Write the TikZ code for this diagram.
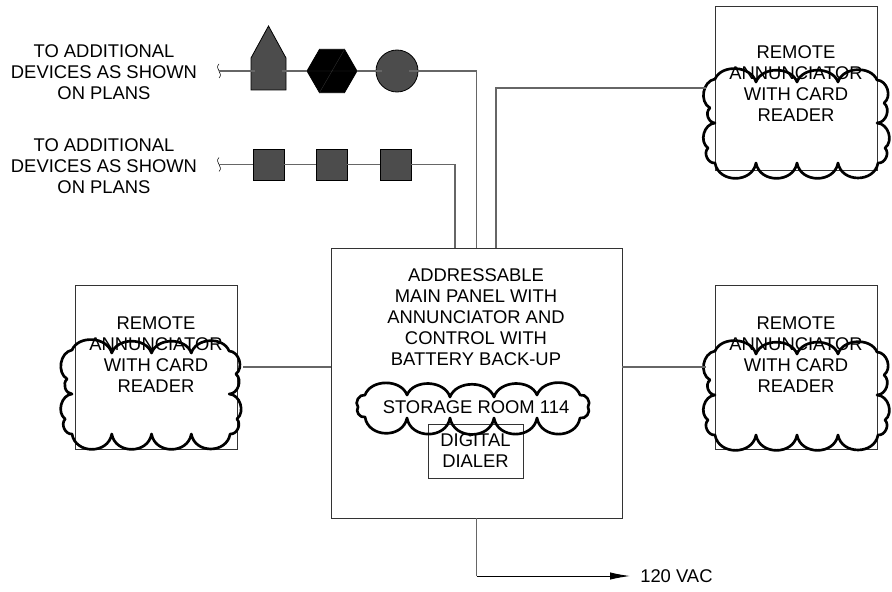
\documentclass[tikz,border=0pt]{standalone}
\usepackage{fontspec}
\setmainfont{Liberation Sans}
\usetikzlibrary{shapes.geometric,arrows.meta,calc}
\def\u{0.75pt}
\tikzset{
	drawtext/.style={align=center,inner sep=0pt,font=\fontsize{13.8}{15.75}\selectfont},
	boxnode/.style={draw=black!80,line width=0.6pt,inner sep=0pt,align=center,font=\fontsize{13.8}{15.75}\selectfont},
	wire/.style={draw=black!60,line width=0.8pt},
	device/.style={draw=black,fill=black!70,line width=0.6pt,inner sep=0pt},
	cloudline/.style={draw=black,line width=2pt,line join=round},
	bump/.style={bend left=80,looseness=1.3},
	topbump/.style={bend left=70,looseness=1.05},
	smallbump/.style={bend left=70,looseness=1.1},
	cardcloud/.pic={
		\draw [cloudline] (0,74) to[topbump] (41,77) to[topbump] (82,77) to[topbump] (123,77) to[topbump] (162,75)
			to[smallbump] (169,98) to[smallbump] (162,118) to[smallbump] (170,143) to[smallbump] (163,158)
			to[bump] (123,158) to[bump] (82,158) to[bump] (41,158) to[bump] (0,158)
			to[smallbump] (-7,143) to[smallbump] (0,118) to[smallbump] (-5,103) to[smallbump] (0,74) -- cycle;
	},
}
\begin{document}
\begin{tikzpicture}[x=0.75pt,y=-0.75pt]
\useasboundingbox (0,0) rectangle (892,592);

% panels
\node [boxnode,minimum width=291*\u,minimum height=270*\u] (panel) at (476.5,383) {};
\node [drawtext] (paneltext) at (476,317) {ADDRESSABLE\\MAIN PANEL WITH\\ANNUNCIATOR AND\\CONTROL WITH\\BATTERY BACK-UP};
\node [boxnode,minimum width=95*\u,minimum height=54*\u] (dialer) at (475.5,451) {DIGITAL\\DIALER};
\node [drawtext] (room) at (476,407) {STORAGE ROOM 114};

% remote annunciators
\foreach \nm/\bx/\by/\ty/\cx/\cy/\sx in {topcard/796/88/84/715/5/1,leftcard/156/367/355/72/276/0.97,rightcard/796/367/355/715/277/1}{
	\node [boxnode,minimum width=162*\u,minimum height=164*\u] (\nm) at (\bx,\by) {};
	\node [drawtext] (\nm text) at (\bx,\ty) {REMOTE\\ANNUNCIATOR\\WITH CARD\\READER};
	\pic [xscale=\sx] at (\cx,\cy) {cardcloud};
}

% storage room cloud
\draw [cloudline] (365,395) to[topbump] (407,395) to[topbump] (450,397) to[topbump] (494,397) to[topbump] (537,395) to[topbump] (580,395)
	to[smallbump] (588,407) to[smallbump] (580,418)
	to[bump] (537,418) to[bump] (494,418) to[bump] (450,418) to[bump] (407,418) to[bump] (365,417)
	to[smallbump] (358,407) to[smallbump] (365,395) -- cycle;

% devices on the first line
\draw [device] (251,90) -- (251,58) -- (268.5,26) -- (286,58) -- (286,90) -- cycle;
\coordinate (hornin) at (255,71);
\coordinate (hornout) at (282,71);
\node [device,fill=black,regular polygon,regular polygon sides=6,minimum size=50*\u] (hexa) at (332,71) {};
\draw [draw=black!80,line width=0.25pt] (hexa.corner 1) -- (hexa.corner 4) (hexa.corner 3) -- (hexa.corner 6);
\node [device,circle,minimum size=42*\u] (bell) at (397,71) {};
\coordinate (bellin) at (382,71);
\coordinate (bellout) at (409,71);

% devices on the second line
\foreach \nm/\x in {sqa/268.5,sqb/331.5,sqc/395.5}
	\node [device,minimum size=31*\u] (\nm) at (\x,164.5) {};

% line ends
\coordinate (enda) at (219,71);
\coordinate (endb) at (219,164.5);
\foreach \e in {enda,endb}
	\draw [draw=black,line width=0.4pt] ($(\e)+(0,-7)$) .. controls ($(\e)+(-5,-2)$) and ($(\e)+(5,2)$) .. ($(\e)+(0,7)$);
\node [drawtext] (notea) at (104,72) {TO ADDITIONAL\\DEVICES AS SHOWN\\ON PLANS};
\node [drawtext] (noteb) at (104,166) {TO ADDITIONAL\\DEVICES AS SHOWN\\ON PLANS};

% wiring
\coordinate (panelb) at (455,248);
\coordinate (panelc) at (496,248);
\coordinate (topin) at (706,88);
\coordinate (leftin) at (243,367);
\coordinate (rightin) at (706,367);
\draw [wire] (enda) -- (hornin);
\draw [wire] (hornout) -- (hexa);
\draw [wire] (hexa) -- (bellin);
\draw [wire] (bellout) -| (panel.north);
\draw [wire] (endb) -- (sqa);
\draw [wire] (sqa) -- (sqb);
\draw [wire] (sqb) -- (sqc);
\draw [wire] (sqc) -| (panelb);
\draw [wire] (panelc) |- (topin);
\draw [wire] (leftin -| panel.west) -- (leftin);
\draw [wire] (rightin -| panel.east) -- (rightin);

\node [drawtext,anchor=west] (vac) at (640,576) {120 VAC};
\draw [wire] (panel.south) -- (panel.south |- vac);
\draw [draw=black,line width=0.7pt,-{Latex[length=15pt,width=5.5pt]}] (panel.south |- vac) -- ($(vac.west)+(-10,0)$);
\end{tikzpicture}
\end{document}
